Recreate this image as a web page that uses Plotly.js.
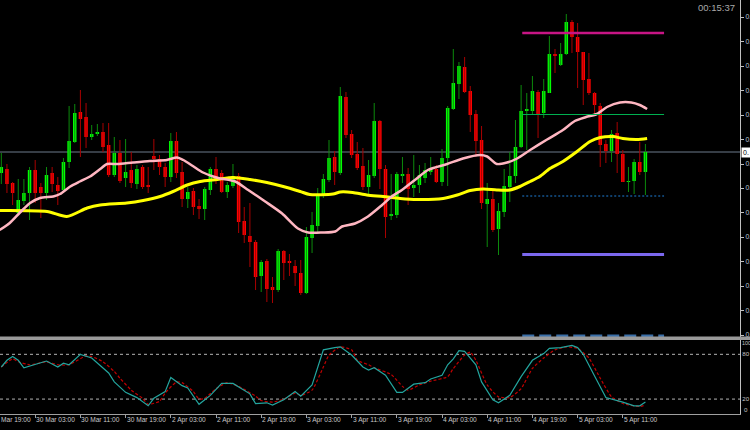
<!DOCTYPE html>
<html><head><meta charset="utf-8">
<script src="https://cdn.plot.ly/plotly-3.0.1.min.js"></script>
<style>html,body{margin:0;padding:0;background:#000;overflow:hidden}#chart{width:750px;height:430px}</style>
</head><body><div id="chart"></div>
<script>
// ---- candle data (H1), index 0 = 29 Mar 21:00 ----
const open = [
0.76724,0.76732,0.76704,0.76644,0.76668,0.76684,0.76730,0.76696,0.76684,0.76724,
0.76700,0.76690,0.76746,0.76786,0.76846,0.76836,0.76796,0.76802,0.76806,0.76780,
0.76720,0.76764,0.76714,0.76730,0.76702,0.76736,0.76700,0.76758,0.76752,0.76736,
0.76716,0.76788,0.76726,0.76672,0.76688,0.76658,0.76652,0.76690,0.76732,0.76724,
0.76686,0.76698,0.76718,0.76628,0.76598,0.76586,0.76518,0.76548,0.76496,0.76490,
0.76568,0.76548,0.76538,0.76524,0.76484,0.76594,0.76618,0.76678,0.76710,0.76756,
0.76724,0.76876,0.76802,0.76762,0.76738,0.76696,0.76718,0.76828,0.76732,0.76638,
0.76640,0.76718,0.76722,0.76694,0.76700,0.76714,0.76726,0.76732,0.76706,0.76754,
0.76852,0.76902,0.76936,0.76888,0.76842,0.76790,0.76662,0.76672,0.76612,0.76646,
0.76696,0.76718,0.76776,0.76848,0.76848,0.76886,0.76844,0.76884,0.76962,0.76940,
0.76962,0.77026,0.76996,0.76966,0.76912,0.76884,0.76858,0.76782,0.76768,0.76804,
0.76762,0.76706,0.76708,0.76746,0.76726];
const high = [
0.76764,0.76742,0.76706,0.76712,0.76712,0.76736,0.76750,0.76704,0.76736,0.76736,
0.76716,0.76754,0.76858,0.76862,0.76890,0.76864,0.76820,0.76822,0.76824,0.76824,
0.76796,0.76790,0.76792,0.76766,0.76740,0.76740,0.76736,0.76792,0.76760,0.76744,
0.76804,0.76806,0.76746,0.76696,0.76694,0.76672,0.76696,0.76736,0.76756,0.76730,
0.76706,0.76742,0.76724,0.76656,0.76664,0.76590,0.76550,0.76552,0.76516,0.76572,
0.76570,0.76562,0.76550,0.76550,0.76616,0.76646,0.76694,0.76722,0.76790,0.76768,
0.76896,0.76886,0.76810,0.76786,0.76774,0.76750,0.76864,0.76830,0.76740,0.76722,
0.76726,0.76756,0.76734,0.76760,0.76740,0.76744,0.76756,0.76740,0.76772,0.76858,
0.76972,0.76946,0.76956,0.76898,0.76850,0.76818,0.76704,0.76690,0.76664,0.76732,
0.76766,0.76830,0.76900,0.76884,0.76918,0.76890,0.76912,0.76998,0.76972,0.76984,
0.77042,0.77030,0.77024,0.76966,0.76964,0.76886,0.76864,0.76790,0.76810,0.76826,
0.76770,0.76736,0.76752,0.76786,0.76782];
const low = [
0.76702,0.76684,0.76660,0.76642,0.76660,0.76630,0.76664,0.76634,0.76670,0.76686,
0.76660,0.76686,0.76734,0.76784,0.76756,0.76774,0.76790,0.76798,0.76766,0.76716,
0.76716,0.76704,0.76696,0.76694,0.76692,0.76692,0.76684,0.76730,0.76720,0.76696,
0.76706,0.76714,0.76656,0.76654,0.76640,0.76632,0.76630,0.76680,0.76702,0.76684,
0.76674,0.76694,0.76604,0.76584,0.76536,0.76490,0.76486,0.76466,0.76464,0.76486,
0.76510,0.76518,0.76498,0.76480,0.76482,0.76564,0.76604,0.76674,0.76706,0.76700,
0.76720,0.76794,0.76754,0.76730,0.76690,0.76680,0.76714,0.76692,0.76594,0.76630,
0.76634,0.76704,0.76660,0.76676,0.76684,0.76704,0.76720,0.76704,0.76698,0.76698,
0.76850,0.76872,0.76884,0.76806,0.76756,0.76652,0.76576,0.76606,0.76560,0.76636,
0.76666,0.76704,0.76774,0.76770,0.76840,0.76794,0.76834,0.76884,0.76924,0.76938,
0.76960,0.76964,0.76894,0.76860,0.76880,0.76840,0.76736,0.76744,0.76746,0.76724,
0.76706,0.76686,0.76682,0.76720,0.76680];
const close = [
0.76736,0.76702,0.76684,0.76670,0.76684,0.76730,0.76684,0.76684,0.76720,0.76702,
0.76688,0.76746,0.76788,0.76844,0.76832,0.76796,0.76802,0.76806,0.76776,0.76720,
0.76764,0.76708,0.76726,0.76704,0.76732,0.76696,0.76696,0.76752,0.76736,0.76716,
0.76788,0.76724,0.76672,0.76686,0.76656,0.76652,0.76692,0.76732,0.76708,0.76686,
0.76700,0.76718,0.76626,0.76600,0.76586,0.76516,0.76546,0.76492,0.76490,0.76568,
0.76544,0.76544,0.76524,0.76484,0.76596,0.76620,0.76678,0.76712,0.76754,0.76726,
0.76878,0.76800,0.76760,0.76734,0.76696,0.76720,0.76828,0.76732,0.76636,0.76642,
0.76722,0.76722,0.76692,0.76700,0.76720,0.76730,0.76732,0.76706,0.76754,0.76854,
0.76904,0.76938,0.76886,0.76840,0.76788,0.76664,0.76672,0.76610,0.76648,0.76698,
0.76718,0.76776,0.76848,0.76852,0.76888,0.76842,0.76888,0.76962,0.76958,0.76962,
0.77026,0.76996,0.76966,0.76910,0.76884,0.76860,0.76780,0.76768,0.76802,0.76762,
0.76706,0.76708,0.76746,0.76726,0.76766];

// ---- moving averages (x = candle index) ----
const maSlowX = [-0.3,8.1,11.6,15.2,17.5,22.2,25.1,28.1,30.4,32.9,35.2,38.2,41,44,47,49.9,52.9,54.6,58.7,60,62.2,64.7,67.6,70.6,73.6,78.2,80.7,83,85.3,87.7,90,91.8,93.6,95.3,97.1,99.4,101.9,104.2,106,108.3,110,112.5,114.3];
const maSlow  = [0.76649,0.76647,0.76637,0.76654,0.76660,0.76664,0.76669,0.76677,0.76687,0.76700,0.76707,0.76711,0.76715,0.76711,0.76705,0.76697,0.76687,0.76681,0.76682,0.76686,0.76685,0.76680,0.76677,0.76673,0.76671,0.76673,0.76680,0.76689,0.76692,0.76690,0.76690,0.76697,0.76707,0.76717,0.76733,0.76747,0.76767,0.76787,0.76795,0.76797,0.76793,0.76791,0.76793];
const maFastX = [-0.3,1.5,3.3,5.1,6.85,9.2,10.4,12.2,13.9,15.7,17.5,18.7,20.5,23.3,26.3,29.3,31.1,32.2,33.9,35.7,37.5,38.7,41.4,43.7,46.7,49.7,52.5,54.3,56.8,59.1,60.3,62.6,64.9,67.4,69.1,70.9,73.2,75.5,78.9,81.7,84.7,86,87.7,89.5,91.3,93.6,96.6,99.4,101.5,103.5,105.4,107.2,109.5,111.5,113,114.3];
const maFast  = [0.76610,0.76624,0.76645,0.76664,0.76674,0.76677,0.76682,0.76697,0.76707,0.76717,0.76732,0.76742,0.76742,0.76745,0.76748,0.76750,0.76755,0.76750,0.76738,0.76725,0.76717,0.76713,0.76707,0.76690,0.76667,0.76643,0.76613,0.76605,0.76605,0.76607,0.76617,0.76623,0.76637,0.76660,0.76677,0.76690,0.76710,0.76730,0.76742,0.76753,0.76760,0.76757,0.76742,0.76745,0.76753,0.76770,0.76791,0.76810,0.76828,0.76836,0.76842,0.76856,0.76865,0.76865,0.76860,0.76852];

// ---- horizontal levels ----
const levelPrices = [0.77004, 0.76841, 0.76678, 0.76561, 0.76398];
const levelFrom = 92.2, levelTo = 117.3;

// ---- stochastic ----
const stochX = [0,1,2,3,4,6,8,10,11,12,14,16,17,19,20,22,24,26,27,29,30,32,33,35,37,39,41,44,45,47,48,50,52,53,55,57,59,60,62,64,65,66,68,70,71,73,75,76,78,79,80,81,82,84,85,87,88,90,92,94,96,97,99,101,102,103,105,107,110,112,113,114];
const stochMain = [63,72,77,72,62,67,71,63,68,66,80,75,68,55,43,29,22,11,21,30,49,38,35,13,25,41,41,27,14,15,12,19,30,24,39,86,89,90,79,63,59,62,52,29,29,40,42,47,52,66,74,85,84,66,43,19,15,25,50,72,81,88,89,92,89,80,51,22,16,11,11,16];
const signalX = [0,2,3,5,6,8,10,12,15,16,18,20,21,23,25,26,28,29,31,32,34,35,36,38,40,42,45,46,48,50,52,53,55,57,58,60,62,63,65,66,69,71,72,74,76,79,80,82,83,84,86,88,90,92,94,96,98,100,102,104,106,108,110,113,114];
const stochSignal = [63,74,70,66,67,70,66,66,78,77,70,57,48,32,21,13,17,28,43,42,30,20,21,34,42,37,24,18,16,20,28,25,32,63,79,90,86,72,66,62,53,37,32,39,44,50,61,79,83,72,39,23,22,34,61,75,86,90,88,75,48,23,14,10,12];
const stochLevels = [20, 80];
const stochEnds = [100, 0];

// ---- axes (price labels are shown truncated to "0." as in the terminal window) ----
const priceTicks = [0.76400,0.76449,0.76498,0.76547,0.76596,0.76645,0.76694,0.76742,0.76791,0.76840,0.76889,0.76938,0.76987,0.77036];
const priceTickText = ["0.","0.","0.","0.","0.","0.","0.","0.","0.","0.","0.","0.","0.","0."];
const priceBoxText = "0.";
const timeTickIdx = [-2,6,14,22,30,38,46,54,62,70,78,86,94,102,110];
const timeTickLabels = ["Mar 19:00","30 Mar 03:00","30 Mar 11:00","30 Mar 19:00","2 Apr 03:00","2 Apr 11:00","2 Apr 19:00","3 Apr 03:00","3 Apr 11:00","3 Apr 19:00","4 Apr 03:00","4 Apr 11:00","4 Apr 19:00","5 Apr 03:00","5 Apr 11:00"];
const timerText = "00:15:37";

const idx = open.map((_, i) => i);
const lastPrice = close[close.length - 1];
const XR = [-0.23, 130.74];

const traces = [];
traces.push({type:'ohlc', x: idx, open, high, low, close, tickwidth: 0,
  increasing:{line:{color:'#0c8a0c', width:1}}, decreasing:{line:{color:'#a80000', width:1}},
  xaxis:'x', yaxis:'y', hoverinfo:'skip'});
traces.push({type:'bar', x: idx, base: open, y: close.map((c, i) => c - open[i]), width: 0.62,
  marker:{color: close.map((c, i) => c >= open[i] ? '#00ff00' : '#ff0000'), line:{width:0}},
  xaxis:'x', yaxis:'y', hoverinfo:'skip'});
traces.push({type:'scatter', mode:'lines', x: maSlowX, y: maSlow, line:{color:'#ffff00', width:3, shape:'spline', smoothing:0.7}, xaxis:'x', yaxis:'y', hoverinfo:'skip'});
traces.push({type:'scatter', mode:'lines', x: maFastX, y: maFast, line:{color:'#ffb6c1', width:2.5, shape:'spline', smoothing:0.7}, xaxis:'x', yaxis:'y', hoverinfo:'skip'});
const levelStyle = [
  {color:'#c71585', width:2.5, dash:'solid'},
  {color:'#00b050', width:1, dash:'solid'},
  {color:'#1e7fd8', width:1, dash:'2px,2px'},
  {color:'#7b68ee', width:3, dash:'solid'},
  {color:'#3a6fa8', width:3, dash:'12px,5px'}];
levelPrices.forEach((p, k) => traces.push({type:'scatter', mode:'lines', x:[levelFrom, levelTo], y:[p, p], line: levelStyle[k], xaxis:'x', yaxis:'y', hoverinfo:'skip'}));
traces.push({type:'scatter', mode:'lines', x: signalX, y: stochSignal, line:{color:'#c00000', width:1.2, dash:'3px,2px', shape:'spline', smoothing:0.5}, xaxis:'x2', yaxis:'y2', hoverinfo:'skip'});
traces.push({type:'scatter', mode:'lines', x: stochX, y: stochMain, line:{color:'#23a59e', width:1.2}, xaxis:'x2', yaxis:'y2', hoverinfo:'skip'});

const H = 414;
const sepTop = 336.6, sepBot = 340;
const FONT = 'Liberation Sans, Arial, sans-serif';
const axisFont = {family:FONT, size:6.2, color:'#c4c4c4'};

const annotations = [];
timeTickIdx.forEach((t, k) => {
  const inRange = t >= XR[0];
  annotations.push({xref: inRange ? 'x2' : 'paper', yref:'paper', x: inRange ? t : 0, y:0, yshift:-1, xanchor:'left', yanchor:'top',
    text: timeTickLabels[k], showarrow:false, font:{family:FONT, size:6.6, color:'#c8c8c8'}, borderpad:0});
});
annotations.push({xref:'paper', yref:'paper', x:736/740, y:1, yshift:-1, xanchor:'right', yanchor:'top', text: timerText, showarrow:false,
  font:{family:FONT, size:9.5, color:'#a8a8a8'}, borderpad:0});
annotations.push({xref:'paper', yref:'y', x:1, xshift:1, y:lastPrice, xanchor:'left', yanchor:'middle', text: priceBoxText, showarrow:false,
  bgcolor:'#ffffff', font:{family:FONT, size:7, color:'#000000'}, borderpad:1});
annotations.push({xref:'paper', yref:'y2', x:1, xshift:1, y:stochEnds[0], xanchor:'left', yanchor:'top', text:String(stochEnds[0]), showarrow:false,
  font:{family:FONT, size:5.4, color:'#c4c4c4'}, borderpad:0});
annotations.push({xref:'paper', yref:'y2', x:1, xshift:3, y:stochEnds[1], xanchor:'left', yanchor:'bottom', text:String(stochEnds[1]), showarrow:false, font:axisFont, borderpad:0});

const shapes = [
  {type:'line', xref:'paper', x0:0, x1:1, yref:'y', y0:lastPrice, y1:lastPrice, line:{color:'#6c7b8b', width:1}, layer:'below'},
  {type:'rect', xref:'paper', x0:0, x1:1.02, yref:'paper', y0:(H - sepBot)/H, y1:(H - sepTop)/H, fillcolor:'#9a9a9a', line:{width:0}, layer:'above'}
];
stochLevels.forEach(v => shapes.push({type:'line', xref:'paper', x0:0, x1:1, yref:'y2', y0:v, y1:v, line:{color:'#b4b4b4', width:1, dash:'3px,3px'}, layer:'below'}));

const layout = {
  width:750, height:430,
  margin:{l:0, r:10, t:0, b:16, pad:0},
  paper_bgcolor:'#000000', plot_bgcolor:'#000000',
  showlegend:false, hovermode:false, barmode:'overlay', dragmode:false,
  xaxis:{domain:[0,1], range:XR, anchor:'y', showgrid:false, zeroline:false, showticklabels:false, ticks:'', showline:false, rangeslider:{visible:false}},
  yaxis:{domain:[(H - 337)/H, 1], range:[0.76396, 0.77070], side:'right', anchor:'x', tickvals: priceTicks, ticktext: priceTickText,
    showgrid:false, zeroline:false, ticks:'outside', ticklen:3, tickcolor:'#c0c0c0', showline:true, linecolor:'#c0c0c0', linewidth:1,
    tickfont:{family:FONT, size:7, color:'#b8c4d4'}},
  xaxis2:{domain:[0,1], range:XR, anchor:'y2', showgrid:false, zeroline:false, tickvals: timeTickIdx, showticklabels:false,
    ticks:'outside', ticklen:3, tickcolor:'#a0a0a0', showline:true, linecolor:'#a0a0a0', linewidth:1, rangeslider:{visible:false}},
  yaxis2:{domain:[0, (H - 339.4)/H], range:[0,100], side:'right', anchor:'x2', tickvals: stochLevels,
    showgrid:false, zeroline:false, ticks:'', showline:true, linecolor:'#c0c0c0', linewidth:1,
    tickfont: axisFont},
  annotations, shapes
};

Plotly.newPlot('chart', traces, layout, {staticPlot:true, displayModeBar:false});
</script></body></html>
